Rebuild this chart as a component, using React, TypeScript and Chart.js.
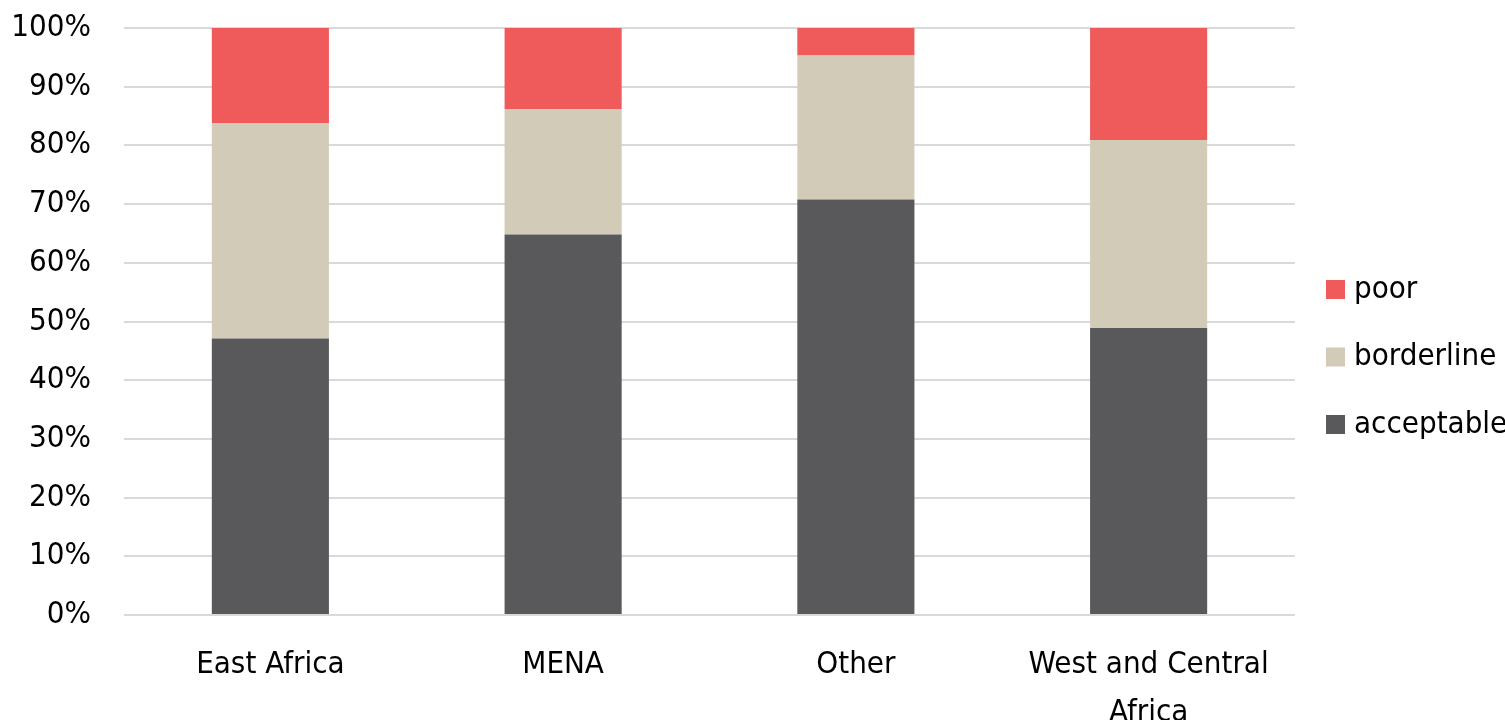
import React, { useEffect, useRef } from "react";
import { Chart, registerables } from "chart.js";

Chart.register(...registerables);

// Regions on the category axis
const regions: (string | string[])[] = [
  "East Africa",
  "MENA",
  "Other",
  ["West and Central", "Africa"],
];

// Share of households by food consumption group (%)
const acceptable = [47.1, 64.8, 70.8, 48.9];
const borderline = [36.7, 21.4, 24.5, 32.0];
const poor = [16.2, 13.8, 4.7, 19.1];

const seriesNames = ["acceptable", "borderline", "poor"];
const seriesColors = ["#59595B", "#D2CBB8", "#EF5A5B"];

const yTicks = [0, 10, 20, 30, 40, 50, 60, 70, 80, 90, 100];

const FONT_FAMILY =
  '"Liberation Sans Narrow", "Arial Narrow", "DejaVu Sans Condensed", sans-serif';
const FONT_SIZE = 31;

// Legend drawn at the right of the plot, top entry = top of the stack
const sideLegend = {
  id: "sideLegend",
  afterDraw(chart: any) {
    const { ctx, chartArea } = chart;
    const datasets = chart.data.datasets;
    const order = datasets.map((_: any, i: number) => i).reverse();
    const step = 67.5;
    const midY = chart.height / 2 - 3;
    const boxSize = 19;
    const boxX = chartArea.right + 31;
    const textX = chartArea.right + 59;
    ctx.save();
    ctx.font = `${FONT_SIZE}px ${FONT_FAMILY}`;
    ctx.textBaseline = "middle";
    ctx.textAlign = "left";
    order.forEach((di: number, k: number) => {
      const ds = datasets[di];
      const cy = midY + (k - (order.length - 1) / 2) * step;
      ctx.fillStyle = ds.backgroundColor;
      ctx.fillRect(boxX, cy - boxSize / 2, boxSize, boxSize);
      ctx.fillStyle = "#000";
      ctx.fillText(ds.label, textX, cy);
    });
    ctx.restore();
  },
};

export default function App() {
  const canvasRef = useRef<HTMLCanvasElement | null>(null);

  useEffect(() => {
    if (!canvasRef.current) return;
    const values = [acceptable, borderline, poor];
    const chart = new Chart(canvasRef.current, {
      type: "bar",
      data: {
        labels: regions,
        datasets: values.map((v, i) => ({
          label: seriesNames[i],
          data: v,
          backgroundColor: seriesColors[i],
          borderWidth: 0,
          barPercentage: 0.4,
          categoryPercentage: 1,
        })),
      },
      options: {
        animation: false,
        responsive: true,
        maintainAspectRatio: false,
        layout: { padding: { top: 28, right: 210, bottom: 0, left: 0 } },
        plugins: {
          legend: { display: false },
          tooltip: { enabled: false },
        },
        scales: {
          x: {
            stacked: true,
            grid: { display: false },
            border: { display: false },
            ticks: {
              color: "#000",
              padding: 18,
              maxRotation: 0,
              autoSkip: false,
              font: { family: FONT_FAMILY, size: FONT_SIZE, lineHeight: 1.55 },
            },
            afterFit(scale: any) {
              scale.height = 105;
              scale.paddingLeft = 0;
              scale.paddingRight = 0;
              scale.paddingTop = 0;
              scale.paddingBottom = 0;
            },
          },
          y: {
            stacked: true,
            min: 0,
            max: 100,
            grid: { color: "#D9D9D9", lineWidth: 2, drawTicks: false },
            border: { display: false },
            afterBuildTicks(scale: any) {
              scale.ticks = yTicks.map((v) => ({ value: v }));
            },
            ticks: {
              color: "#000",
              padding: 33,
              font: { family: FONT_FAMILY, size: FONT_SIZE },
              callback: (v: any) => `${v}%`,
            },
            afterFit(scale: any) {
              scale.width = 124;
              scale.paddingTop = 0;
              scale.paddingBottom = 0;
              scale.paddingLeft = 0;
              scale.paddingRight = 0;
            },
          },
        },
      },
      plugins: [sideLegend],
    });
    return () => chart.destroy();
  }, []);

  return (
    <div style={{ position: "absolute", left: 0, top: 0, width: 1505, height: 720, background: "#fff" }}>
      <canvas ref={canvasRef} />
    </div>
  );
}
